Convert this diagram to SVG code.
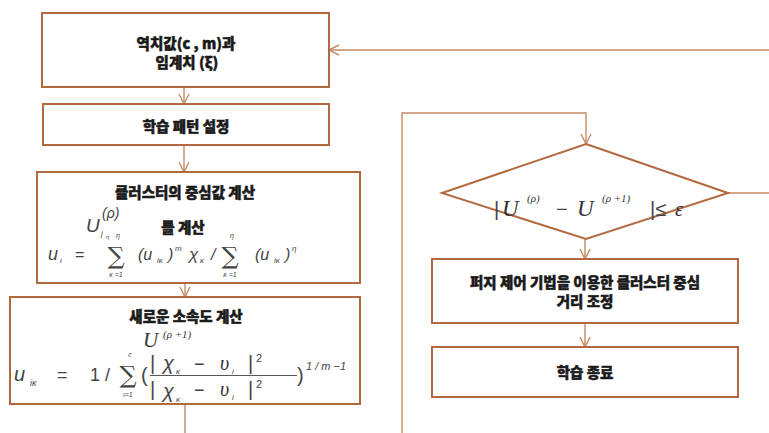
<svg xmlns="http://www.w3.org/2000/svg" width="769" height="433" viewBox="0 0 769 433">
<defs>
<marker id="arr" viewBox="0 0 12 12" refX="11" refY="6" markerWidth="12" markerHeight="12" markerUnits="userSpaceOnUse" orient="auto">
<path d="M1 1 L11 6 L1 11" fill="none" stroke="#c58a66" stroke-width="1.4"/>
</marker>
</defs>
<style>
.box{fill:#fff;stroke:#b3693f;stroke-width:2}
.con{fill:none;stroke:#c58a66;stroke-width:1.4}
.ko{font-family:"Noto Sans CJK KR","Noto Sans",sans-serif;font-weight:900;font-size:14.5px;fill:#1a1a1a;stroke:#1a1a1a;stroke-width:0.5;text-anchor:middle}
.m{font-family:"Liberation Serif",serif;fill:#333}
.mi{font-family:"Liberation Serif",serif;font-style:italic;fill:#333}
.ms{font-family:"Liberation Sans",sans-serif;fill:#444}
.msi{font-family:"Liberation Sans",sans-serif;font-style:italic;fill:#444}
.sig{font-family:"DejaVu Serif",serif;fill:#444;text-anchor:middle;font-size:20px}
.lim{font-family:"Liberation Sans",sans-serif;font-style:italic;fill:#444;font-size:7px;text-anchor:middle}
</style>
<rect width="769" height="433" fill="#fff"/>
<g id="connectors">
<path class="con" d="M184 87 V104" marker-end="url(#arr)"/>
<path class="con" d="M184 145 V172" marker-end="url(#arr)"/>
<path class="con" d="M185 283 V297" marker-end="url(#arr)"/>
<path class="con" d="M185 404 V440 H402 V113 H586 V144" marker-end="url(#arr)"/>
<path class="con" d="M728 193 H780 V50 H329" marker-end="url(#arr)"/>
<path class="con" d="M585 239 V259" marker-end="url(#arr)"/>
<path class="con" d="M585 323 V347" marker-end="url(#arr)"/>
</g>
<g id="n1">
<rect class="box" x="42" y="13" width="287" height="74"/>
<text class="ko" x="186" y="49">역치값(c , m)과</text>
<text class="ko" x="187" y="68">임계치 (ξ)</text>
</g>
<g id="n2">
<rect class="box" x="43" y="104" width="286" height="41"/>
<text class="ko" x="186" y="132">학습 패턴 설정</text>
</g>
<g id="n3">
<rect class="box" x="37" y="172" width="323" height="111"/>
<text class="ko" x="185" y="198">클러스터의 중심값 계산</text>
<text class="msi" x="86" y="232" font-size="19">U</text>
<text class="msi" x="102" y="218" font-size="14">(ρ)</text>
<text class="msi" x="101" y="236" font-size="8">j</text>
<text class="msi" x="106" y="239" font-size="6">η</text>
<text class="ko" x="183" y="233">를 계산</text>
<text class="msi" x="48" y="260" font-size="18">u</text>
<text class="msi" x="60" y="263" font-size="8">ι</text>
<text class="ms" x="75" y="260" font-size="16">=</text>
<text class="sig" transform="translate(116,264) scale(1.2)">∑</text>
<text class="lim" x="118" y="238">η</text>
<text class="lim" x="116" y="277">κ =1</text>
<text class="msi" x="138" y="260" font-size="16">(u</text>
<text class="msi" x="157" y="263" font-size="8">iκ</text>
<text class="msi" x="168" y="260" font-size="16">)</text>
<text class="msi" x="175" y="251" font-size="8">m</text>
<text class="msi" x="189" y="260" font-size="17">χ</text>
<text class="msi" x="200" y="263" font-size="8">κ</text>
<text class="msi" x="211" y="260" font-size="16">/</text>
<text class="sig" transform="translate(230,264) scale(1.2)">∑</text>
<text class="lim" x="232" y="238">η</text>
<text class="lim" x="230" y="277">κ =1</text>
<text class="msi" x="255" y="260" font-size="16">(u</text>
<text class="msi" x="274" y="263" font-size="8">iκ</text>
<text class="msi" x="285" y="260" font-size="16">)</text>
<text class="msi" x="292" y="251" font-size="8">η</text>
</g>
<g id="n4">
<rect class="box" x="10" y="297" width="350" height="107"/>
<text class="ko" x="186" y="322">새로운 소속도 계산</text>
<text class="mi" x="143" y="347" font-size="21">U</text>
<text class="mi" x="163" y="338" font-size="11">(ρ +1)</text>
<text class="msi" x="14" y="381" font-size="20">u</text>
<text class="msi" x="30" y="386" font-size="9">iκ</text>
<text class="ms" x="57" y="381" font-size="18">=</text>
<text class="ms" x="90" y="381" font-size="18">1 /</text>
<text class="sig" transform="translate(128,383) scale(1.2)">∑</text>
<text class="lim" x="130" y="357" font-size="9">c</text>
<text class="lim" x="128" y="397" font-size="8">ι=1</text>
<text class="ms" x="141" y="382" font-size="20">(</text>
<text class="ms" x="150" y="370" font-size="20">|</text>
<text class="msi" x="163" y="370" font-size="20">χ</text>
<text class="msi" x="176" y="374" font-size="8">κ</text>
<text class="ms" x="194" y="370" font-size="18">−</text>
<text class="mi" x="220" y="370" font-size="20">υ</text>
<text class="msi" x="232" y="374" font-size="8">i</text>
<text class="ms" x="248" y="370" font-size="20">|</text>
<text class="ms" x="256" y="362" font-size="11">2</text>
<line x1="150" y1="375.5" x2="297" y2="375.5" stroke="#555" stroke-width="1"/>
<text class="ms" x="150" y="396" font-size="20">|</text>
<text class="msi" x="163" y="398" font-size="20">χ</text>
<text class="msi" x="176" y="402" font-size="8">κ</text>
<text class="ms" x="194" y="396" font-size="18">−</text>
<text class="mi" x="220" y="396" font-size="20">υ</text>
<text class="msi" x="232" y="400" font-size="8">i</text>
<text class="ms" x="248" y="396" font-size="20">|</text>
<text class="ms" x="256" y="388" font-size="11">2</text>
<text class="ms" x="297" y="382" font-size="20">)</text>
<text class="msi" x="306" y="370" font-size="11">1 / m −1</text>
</g>
<g id="n5">
<polygon class="box" points="586,144 728,193 586,239 442,193"/>
<text class="ms" x="494" y="216" font-size="20">|</text>
<text class="mi" x="502" y="216" font-size="23">U</text>
<text class="mi" x="527" y="202" font-size="11">(ρ)</text>
<text class="ms" x="556" y="216" font-size="20">−</text>
<text class="mi" x="577" y="216" font-size="23">U</text>
<text class="mi" x="602" y="202" font-size="11">(ρ +1)</text>
<text class="ms" x="650" y="216" font-size="20">|≤</text>
<text class="mi" x="675" y="216" font-size="20">ε</text>
</g>
<g id="n6">
<rect class="box" x="432" y="259" width="306" height="64"/>
<text class="ko" x="585" y="288">퍼지 제어 기법을 이용한 클러스터 중심</text>
<text class="ko" x="585" y="307">거리 조정</text>
</g>
<g id="n7">
<rect class="box" x="432" y="347" width="306" height="50"/>
<text class="ko" x="585" y="378">학습 종료</text>
</g>
</svg>
